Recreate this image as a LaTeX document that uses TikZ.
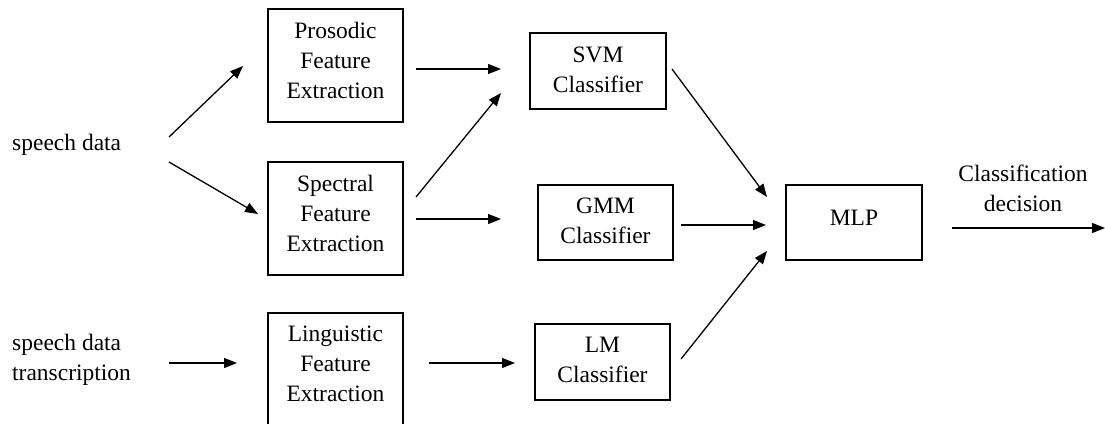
\documentclass[tikz,border=0pt]{standalone}
\usepackage{fontspec}
\setmainfont{Liberation Serif}
\usetikzlibrary{arrows.meta}
\begin{document}
\begin{tikzpicture}[x=1pt,y=-1pt,
  box/.style={draw,line width=1.4pt,minimum width=#1,inner sep=0pt},
  txt/.style={align=center,font=\fontsize{23.5}{30}\selectfont,inner sep=0pt},
  arr/.style={line width=1.3pt,-{Triangle[length=13pt,width=10pt]}}]
\useasboundingbox (0,0) rectangle (1105,423);
\clip (0,0) rectangle (1105,423);
% boxes
\node[box=135pt,minimum height=113pt] (pros) at (335.5,65.5) {};
\node[box=135pt,minimum height=113pt] (spec) at (335.5,218.5) {};
\node[box=135pt,minimum height=113pt] (ling) at (335.5,369.5) {};
\node[box=136pt,minimum height=76pt] (svm) at (598,71) {};
\node[box=135pt,minimum height=75pt] (gmm) at (605.5,222.5) {};
\node[box=135pt,minimum height=76pt] (lm) at (602.5,362) {};
\node[box=136pt,minimum height=75pt] (mlp) at (854,222.5) {};
% texts
\node[txt] (prost) at (335.5,60) {Prosodic\\Feature\\Extraction};
\node[txt] (spect) at (335.5,213) {Spectral\\Feature\\Extraction};
\node[txt] (lingt) at (335.5,363.5) {Linguistic\\Feature\\Extraction};
\node[txt] (svmt) at (598,70) {SVM\\Classifier};
\node[txt] (gmmt) at (605.5,221) {GMM\\Classifier};
\node[txt] (lmt) at (602.5,360) {LM\\Classifier};
\node[txt] (mlpt) at (854,218) {MLP};
\node[txt,anchor=west] (sd) at (12,145) {speech data};
\node[txt,anchor=west,align=left] (sdt) at (12,360) {speech data\\transcription};
\node[txt] (dec) at (1023,188) {Classification\\decision};
% connector end points
\coordinate (a1) at (169,137); \coordinate (a2) at (243,66);
\coordinate (b1) at (169,162); \coordinate (b2) at (258,214);
\coordinate (c1) at (169,363); \coordinate (c2) at (237,363);
\coordinate (d1) at (416,69);  \coordinate (d2) at (501,69);
\coordinate (e1) at (416,197); \coordinate (e2) at (501,93);
\coordinate (f1) at (416,219); \coordinate (f2) at (501,219);
\coordinate (g1) at (429,363); \coordinate (g2) at (515,363);
\coordinate (h1) at (672,69);  \coordinate (h2) at (767,197);
\coordinate (i1) at (681,225); \coordinate (i2) at (766,225);
\coordinate (j1) at (681,359); \coordinate (j2) at (767,251);
\coordinate (k1) at (952,228); \coordinate (k2) at (1105,228);
% connectors
\draw[arr] (a1) -- (a2);
\draw[arr] (b1) -- (b2);
\draw[arr] (c1) -- (c2);
\draw[arr] (d1) -- (d2);
\draw[arr] (e1) -- (e2);
\draw[arr] (f1) -- (f2);
\draw[arr] (g1) -- (g2);
\draw[arr] (h1) -- (h2);
\draw[arr] (i1) -- (i2);
\draw[arr] (j1) -- (j2);
\draw[arr] (k1) -- (k2);
\end{tikzpicture}
\end{document}
